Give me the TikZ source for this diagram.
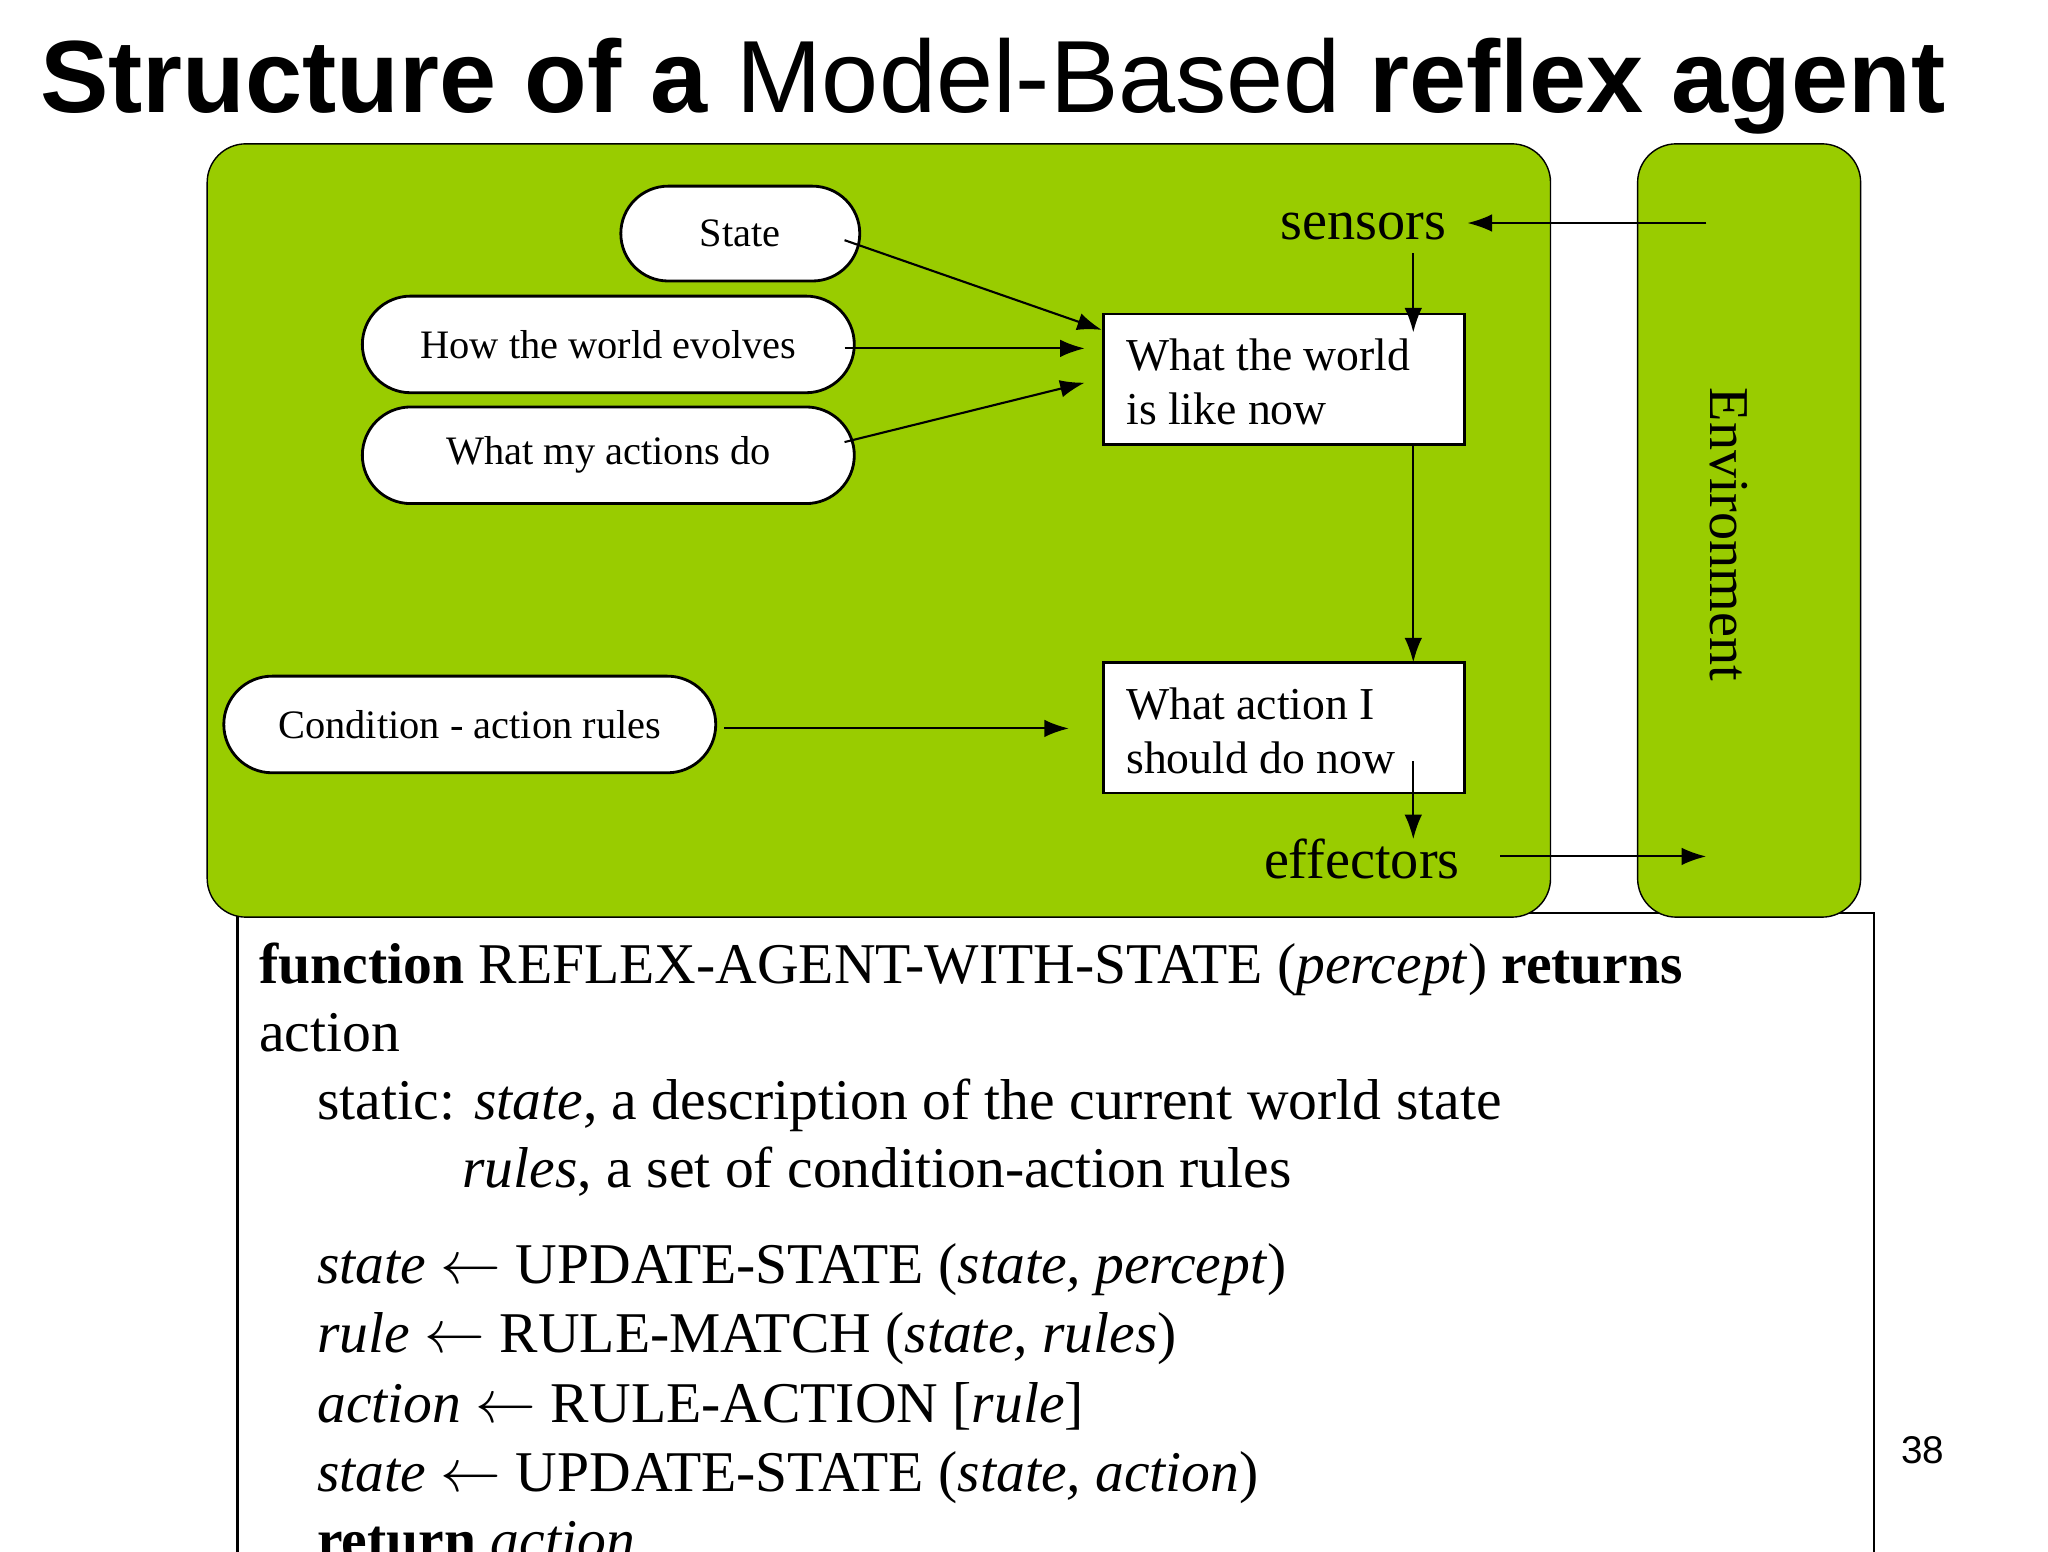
\documentclass[tikz,border=0pt]{standalone}
\usepackage{fontspec}
\setmainfont{Liberation Serif}
\newfontfamily\tsans{Liberation Sans}
\usetikzlibrary{arrows.meta,shapes.misc}
\definecolor{agreen}{HTML}{99CC00}
\newcommand\la{{\fontsize{18}{19}\selectfont$\leftarrow$}}
\begin{document}
\begin{tikzpicture}[x=0.0132cm,y=-0.0132cm,
  pill/.style={draw,fill=white,rounded rectangle,line width=0.8pt,font=\fontsize{11.5}{14}\selectfont,inner sep=0pt},
  arr/.style={-{Latex[length=7pt,width=5pt]},line width=0.6pt},
  big/.style={font=\fontsize{16}{19}\selectfont,inner sep=0pt}]
\useasboundingbox (0,0) rectangle (1552,1176);
\clip (0,0) rectangle (1552,1176);
\fill[white] (0,0) rectangle (1552,1176);
\node[anchor=base west,inner sep=0pt,font=\tsans\fontsize{29.2}{32}\selectfont] (title) at (30,85) {\textbf{Structure of a} Model-Based \textbf{reflex agent}};
% function box
\draw[line width=0.7pt] (180,1200) -- (180,692) -- (1420,692) -- (1420,1200);
% agent and environment
\draw[fill=agreen,rounded corners=11pt] (157,109) rectangle (1175,695);
\draw[fill=agreen,rounded corners=11pt] (1241,109) rectangle (1410,695);
\node[big,rotate=-90] (env) at (1310,405) {Environment};
\node[pill,minimum width=68pt,minimum height=27pt] (state) at (561,177) {State};
\node[pill,minimum width=140pt,minimum height=27.5pt] (how) at (461,261) {How the world evolves};
\node[pill,minimum width=140pt,minimum height=27.5pt] (what) at (461,345) {What my actions do};
\node[pill,minimum width=140pt,minimum height=27.5pt] (cond) at (356,549) {Condition - action rules};
\draw[fill=white,line width=0.8pt] (836,238) rectangle (1110,337);
\node[anchor=base west,inner sep=0pt,font=\fontsize{13}{16}\selectfont] (ww1) at (853,281) {What the world};
\node[anchor=base west,inner sep=0pt,font=\fontsize{13}{16}\selectfont] (ww2) at (853,322) {is like now};
\coordinate (wwtop) at (1071,252); \coordinate (wwbot) at (1071,337);
\coordinate (wwl1) at (835,250); \coordinate (wwl2) at (822,264); \coordinate (wwl3) at (822,290);
\draw[fill=white,line width=0.8pt] (836,502) rectangle (1110,601);
\node[anchor=base west,inner sep=0pt,font=\fontsize{13}{16}\selectfont] (wa1) at (853,545) {What action I};
\node[anchor=base west,inner sep=0pt,font=\fontsize{13}{16}\selectfont] (wa2) at (853,586) {should do now};
\coordinate (watop) at (1071,502); \coordinate (wain) at (1071,577); \coordinate (wal) at (810,552);
\node[big] (sens) at (1033,172) {sensors};
\node[big] (eff) at (1032,651) {effectors};
\coordinate (envin) at (1293,169); \coordinate (envout) at (1293,649);
\draw[arr] (envin) -- (1112,169);
\draw[arr] (1071,192) -- (wwtop);
\draw[arr] (640,182) -- (wwl1);
\draw[arr] (640,264) -- (wwl2);
\draw[arr] (640,335) -- (wwl3);
\draw[arr] (wwbot) -- (watop);
\draw[arr] (549,552) -- (wal);
\draw[arr] (wain) -- (1071,636);
\draw[arr] (1137,649) -- (envout);
% code
\begin{scope}[every node/.style={anchor=base west,inner sep=0pt,font=\fontsize{16.4}{19}\selectfont}]
\node (c1) at (196,745) {\textbf{function} REFLEX-AGENT-WITH-STATE (\textit{percept}) \textbf{returns}};
\node (c2) at (196,797) {action};
\node (c3) at (240,848) {static: \textit{state}, a description of the current world state};
\node (c4) at (350,900) {\textit{rules}, a set of condition-action rules};
\node (c5) at (240,973) {\textit{state} \la{} UPDATE-STATE (\textit{state, percept})};
\node (c6) at (240,1025) {\textit{rule} \la{} RULE-MATCH (\textit{state, rules})};
\node (c7) at (240,1078) {\textit{action} \la{} RULE-ACTION [\textit{rule}]};
\node (c8) at (240,1130) {\textit{state} \la{} UPDATE-STATE (\textit{state, action})};
\node (c9) at (240,1182) {\textbf{return} \textit{action}};
\end{scope}
\node[inner sep=0pt,font=\tsans\fontsize{11}{13}\selectfont] (pg) at (1457,1099) {38};
\end{tikzpicture}
\end{document}
